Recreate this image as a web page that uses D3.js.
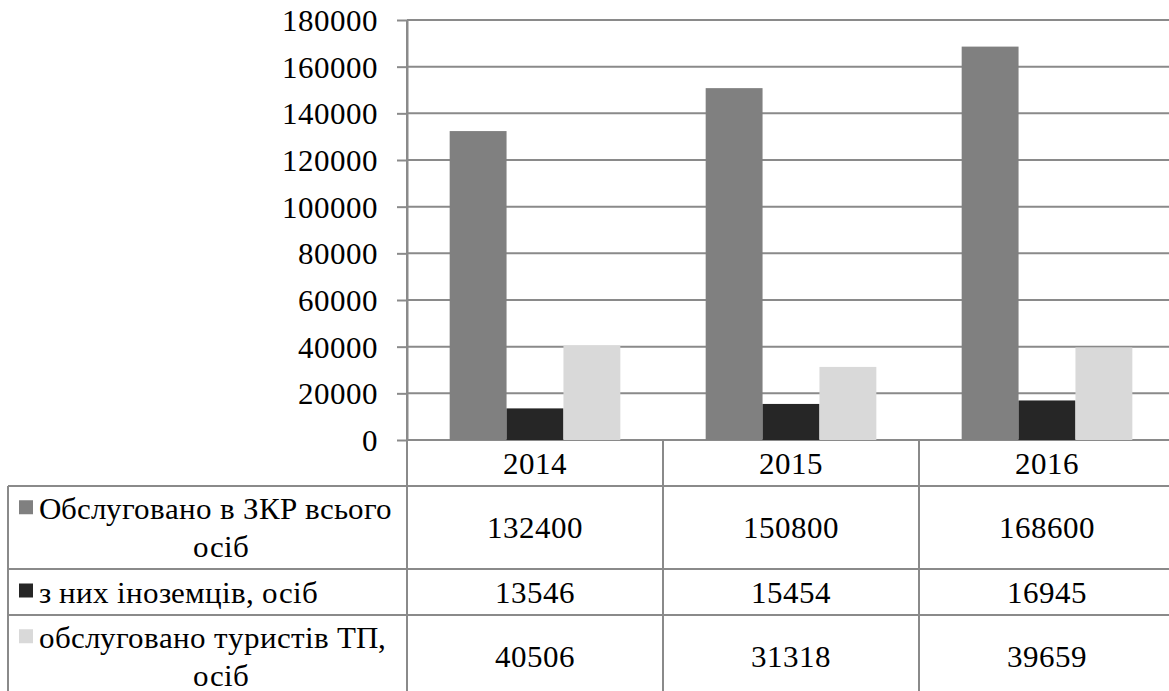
<!DOCTYPE html>
<html>
<head>
<meta charset="utf-8">
<script src="https://cdn.jsdelivr.net/npm/d3@7"></script>
<style>
  @font-face { font-family: "ChartSerif"; src: local("Liberation Serif"), local("LiberationSerif"), local("Liberation Serif Regular"), local("LiberationSerif-Regular"); }
  svg text { font-family: "ChartSerif", "Liberation Serif", serif !important; font-size: 31px !important; }
</style>
</head>
<body style="margin:0;background:#fff">
<script>
var years = ["2014", "2015", "2016"];
var seriesLabels = [
    ["Обслуговано в ЗКР всього", "осіб"],
    ["з них іноземців, осіб"],
    ["обслуговано туристів ТП,", "осіб"]
];
var seriesValues = [
    [132400, 150800, 168600],
    [13546, 15454, 16945],
    [40506, 31318, 39659]
];
var seriesColors = ["#808080", "#262626", "#d9d9d9"];
var yTicks = [0, 20000, 40000, 60000, 80000, 100000, 120000, 140000, 160000, 180000];

var width = 1169;
var height = 691;
var axisX = 407;
var plotRight = 1175;
var plotTop = 20;
var plotBottom = 440;
var tableLeft = 8;
var gridColor = "#8a8a8a";

// table row geometry: category row then one row per series
var catRowBottom = 486;
var rowHeights = [83, 46, 83];
var lineGap = 37.5;

var chart = d3.select("body")
    .append("svg")
    .attr("width", width)
    .attr("height", height);

var y = d3.scaleLinear().domain([0, 180000]).range([plotBottom, plotTop]);

var x0 = d3.scaleBand().domain(years).range([axisX, plotRight]).padding(0);

var x1 = d3.scaleBand().domain([0, 1, 2]).range([0, x0.bandwidth()])
    .paddingInner(0).paddingOuter(0.75);

// gridlines
chart.selectAll("line.grid")
    .data(yTicks)
    .enter().append("line")
    .attr("class", "grid")
    .attr("x1", axisX)
    .attr("x2", plotRight)
    .attr("y1", function (d) { return y(d); })
    .attr("y2", function (d) { return y(d); })
    .attr("stroke", gridColor)
    .attr("stroke-width", 2);

// bars
var groups = chart.selectAll("g.year")
    .data(years)
    .enter().append("g")
    .attr("class", "year")
    .attr("transform", function (d) { return "translate(" + x0(d) + ",0)"; });

groups.selectAll("rect")
    .data(function (d, i) { return seriesValues.map(function (s, k) { return { k: k, v: s[i] }; }); })
    .enter().append("rect")
    .attr("x", function (d) { return x1(d.k); })
    .attr("y", function (d) { return y(d.v); })
    .attr("width", x1.bandwidth())
    .attr("height", function (d) { return plotBottom - y(d.v); })
    .attr("fill", function (d) { return seriesColors[d.k]; });

// y axis
var yAxis = chart.append("g")
    .attr("transform", "translate(" + axisX + ",0)")
    .call(d3.axisLeft(y).tickValues(yTicks).tickFormat(d3.format("d"))
        .tickSize(10).tickPadding(19).tickSizeOuter(0));
yAxis.attr("font-family", null).attr("font-size", null);
yAxis.select(".domain").attr("stroke", gridColor).attr("stroke-width", 2);
yAxis.selectAll(".tick line").attr("stroke", gridColor).attr("stroke-width", 2);
yAxis.selectAll(".tick text").attr("dy", "0.34em").attr("fill", "#000");

// data table
var rowTops = [catRowBottom];
rowHeights.forEach(function (h, i) { rowTops.push(rowTops[i] + h); });

// horizontal table lines
chart.selectAll("line.hrow")
    .data(rowTops)
    .enter().append("line")
    .attr("class", "hrow")
    .attr("x1", tableLeft)
    .attr("x2", plotRight)
    .attr("y1", function (d) { return d; })
    .attr("y2", function (d) { return d; })
    .attr("stroke", gridColor)
    .attr("stroke-width", 2);

// vertical table lines
var colEdges = years.map(function (d) { return x0(d); }).concat([plotRight]);
chart.selectAll("line.vcol")
    .data(colEdges)
    .enter().append("line")
    .attr("class", "vcol")
    .attr("x1", function (d) { return d; })
    .attr("x2", function (d) { return d; })
    .attr("y1", function (d, i) { return i === 0 ? plotTop : plotBottom; })
    .attr("y2", rowTops[rowTops.length - 1])
    .attr("stroke", gridColor)
    .attr("stroke-width", 2);

chart.append("line")
    .attr("x1", tableLeft).attr("x2", tableLeft)
    .attr("y1", catRowBottom).attr("y2", rowTops[rowTops.length - 1])
    .attr("stroke", gridColor).attr("stroke-width", 2);

// category labels
chart.selectAll("text.cat")
    .data(years)
    .enter().append("text")
    .attr("class", "cat")
    .attr("x", function (d) { return x0(d) + x0.bandwidth() / 2; })
    .attr("y", (plotBottom + catRowBottom) / 2 + 10.5)
    .attr("text-anchor", "middle")
    .attr("fill", "#000")
    .text(function (d) { return d; });

// series rows
seriesValues.forEach(function (vals, k) {
    var mid = rowTops[k] + rowHeights[k] / 2;
    var lines = seriesLabels[k];
    var first = mid + 10.5 - (lines.length - 1) * lineGap / 2;

    chart.append("rect")
        .attr("x", 19)
        .attr("y", first - 19)
        .attr("width", 14)
        .attr("height", 14)
        .attr("fill", seriesColors[k]);

    lines.forEach(function (t, j) {
        chart.append("text")
            .attr("x", j === 0 ? 39 : 221)
            .attr("y", first + j * lineGap)
            .attr("text-anchor", j === 0 ? "start" : "middle")
            .attr("fill", "#000")
            .text(t);
    });

    chart.selectAll("text.val" + k)
        .data(vals)
        .enter().append("text")
        .attr("class", "val" + k)
        .attr("x", function (d, i) { return x0(years[i]) + x0.bandwidth() / 2; })
        .attr("y", mid + 10.5)
        .attr("text-anchor", "middle")
        .attr("fill", "#000")
        .text(function (d) { return d; });
});
</script>
</body>
</html>
